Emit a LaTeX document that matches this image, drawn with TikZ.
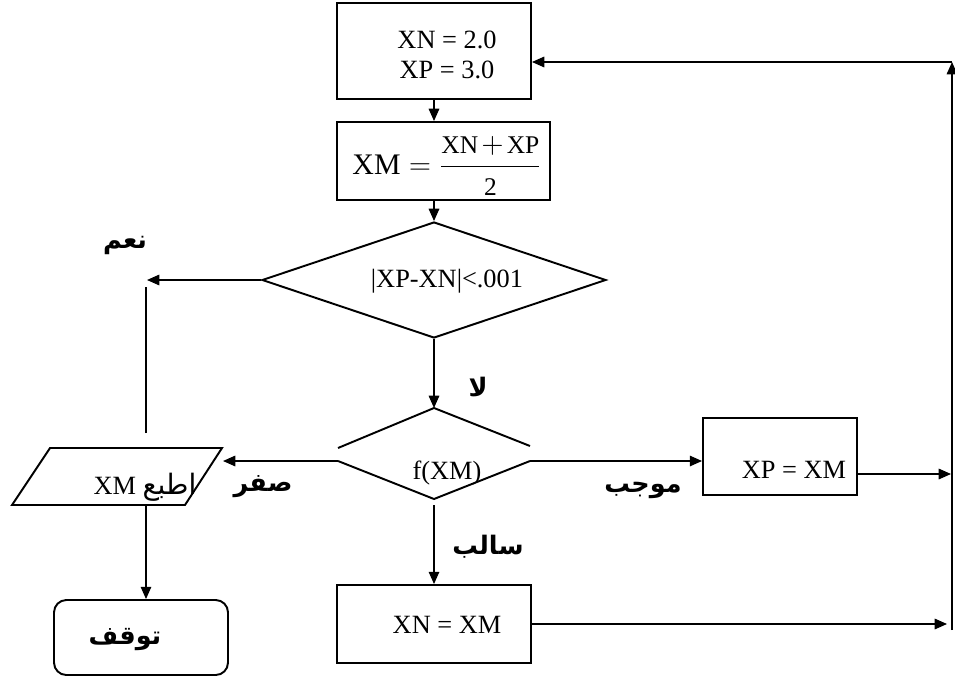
\documentclass[tikz,border=0pt]{standalone}
\usepackage{fontspec}
\setmainfont{Liberation Serif}
\newfontfamily\arabicfont[Script=Arabic]{DejaVu Sans}
\TeXXeTstate=1
\usetikzlibrary{arrows.meta,shapes.geometric,calc}

\begin{document}
\begin{tikzpicture}[x=0.02cm,y=-0.02cm,
  shapeline/.style={line width=1.1pt},
  box/.style={draw,shapeline,rectangle,inner sep=0pt},
  flow/.style={line width=0.8pt,-{Triangle[length=7pt,width=6pt]}},
  link/.style={line width=0.8pt},
  txt/.style={font=\fontsize{15}{17}\selectfont,inner sep=0pt},
  lab/.style={font=\arabicfont\bfseries\fontsize{14.5}{17}\selectfont,inner sep=0pt},
]
\useasboundingbox (0,0) rectangle (955,679);

% process boxes
\node[box,minimum width=3.88cm,minimum height=1.92cm] (init) at (434,51) {};
\node[txt,align=center] (initT) at (447,55) {XN = 2.0\\XP = 3.0};

\node[box,minimum width=4.26cm,minimum height=1.56cm] (mid) at (443.5,161) {};
\node[txt,font=\fontsize{17}{20}\selectfont] (midT) at (447,166)
  {$\displaystyle\textrm{XM} = \frac{\textrm{\fontsize{14.5}{17}\selectfont XN}\mkern2mu{+}\mkern2mu\textrm{\fontsize{14.5}{17}\selectfont XP}}{\textrm{\fontsize{14.5}{17}\selectfont 2}}$};

% convergence test
\node[draw,shapeline,diamond,inner sep=0pt,minimum width=6.88cm,minimum height=2.32cm] (test) at (434,280) {};
\node[txt] (testT) at (447,281) {|XP-XN|<.001};

% sign of f(XM): split decision shape
\coordinate (d2top) at (434,408);
\coordinate (d2ul) at (338,448);
\coordinate (d2ur) at (530,446);
\coordinate (d2ll) at (338,461);
\coordinate (d2bot) at (434,499);
\coordinate (d2lr) at (530,461);
\draw[shapeline] (d2ul) -- (d2top) -- (d2ur);
\draw[shapeline] (d2ll) -- (d2bot) -- (d2lr);
\node[txt] (signT) at (447,473) {f(XM)};

% update boxes
\node[box,minimum width=3.08cm,minimum height=1.54cm] (pos) at (780,456.5) {};
\node[txt] (posT) at (794,470) {XP = XM};

\node[box,minimum width=3.88cm,minimum height=1.56cm] (neg) at (434,624) {};
\node[txt] (negT) at (447,625) {XN = XM};

% output and stop
\draw[shapeline] (50,448) -- (222,448) -- (185,505) -- (12,505) -- cycle;
\node[txt] (print) at (145,487) {XM {\arabicfont\fontsize{16}{18}\selectfont\beginR اطبع\endR}};
\node[box,rounded corners=7pt,minimum width=3.48cm,minimum height=1.5cm] (stop) at (141,637.5) {};
\node[lab] (stopT) at (125,640) {\beginR توقف\endR};

% connectors
\draw[flow] (init.south) -- (init.south |- mid.north);
\draw[flow] (init.south |- mid.south) -- (test.north);
\coordinate (yesend) at (147,280);
\draw[flow] (test.west) -- (yesend);
\coordinate (upA) at (146,433);
\coordinate (upB) at (146,287);
\draw[link] (upA) -- (upB);
\draw[flow] (test.south) -- (d2top);
\coordinate (zeroend) at (223,461);
\draw[flow] (d2ll) -- (zeroend);
\draw[flow] (d2lr) -- (pos.west |- d2lr);
\coordinate (negstart) at (434,505);
\draw[flow] (negstart) -- (neg.north);
\coordinate (printbot) at (146,505);
\draw[flow] (printbot) -- (printbot |- stop.north);

% return rail
\coordinate (railbot) at (952,630);
\coordinate (railtop) at (952,62);
\draw[flow] (neg.east) -- (947,624);
\draw[flow] (pos.east |- 0,474) -- (951,474);
\draw[flow] (railbot) -- (railtop);
\draw[flow] (railtop) -- (init.east |- railtop);

% branch labels
\node[lab] (yesL) at (125,245) {\beginR نعم\endR};
\node[lab] (noL) at (478,387) {\beginR لا\endR};
\node[lab] (zeroL) at (263,487) {\beginR صفر\endR};
\node[lab] (posL) at (643,490) {\beginR موجب\endR};
\node[lab] (negL) at (488,547) {\beginR سالب\endR};
\end{tikzpicture}
\end{document}
